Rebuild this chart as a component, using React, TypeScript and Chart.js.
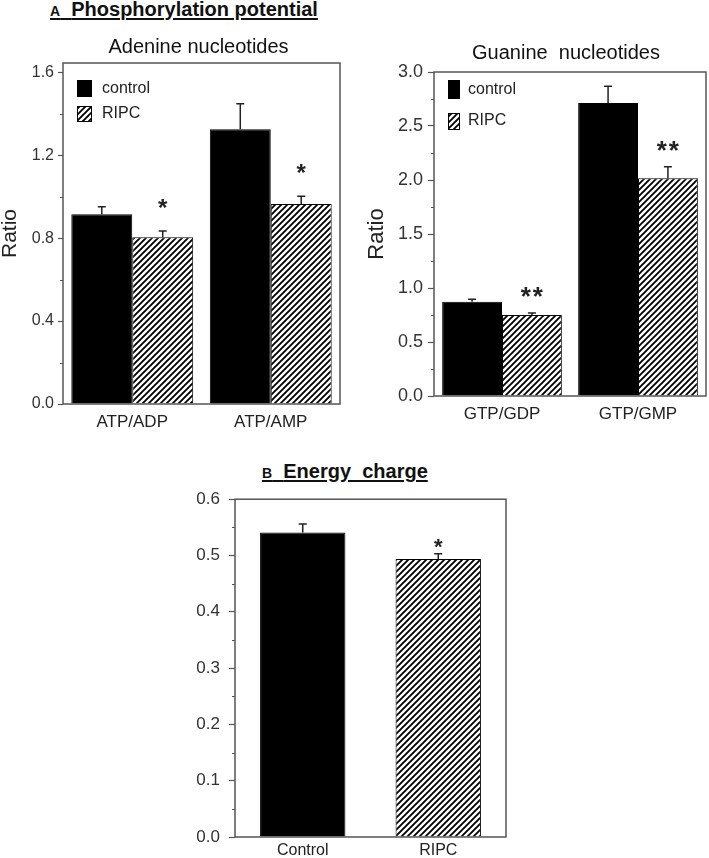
import React, { useEffect, useRef } from 'react';
import { Chart, registerables } from 'chart.js';
Chart.register(...registerables);

const FONT = "'Liberation Sans', Arial, Helvetica, sans-serif";

// ---- Panel A: Adenine nucleotides ----
const adenineCategories = ['ATP/ADP', 'ATP/AMP'];
const adenineControl = [0.915, 1.325];
const adenineControlErr = [0.036, 0.124];
const adenineRIPC = [0.805, 0.965];
const adenineRIPCErr = [0.029, 0.037];
const adenineRIPCStars = ['*', '*'];

// ---- Panel A: Guanine nucleotides ----
const guanineCategories = ['GTP/GDP', 'GTP/GMP'];
const guanineControl = [0.873, 2.713];
const guanineControlErr = [0.022, 0.154];
const guanineRIPC = [0.75, 2.016];
const guanineRIPCErr = [0.018, 0.107];
const guanineRIPCStars = ['**', '**'];

// ---- Panel B: Energy charge ----
const energyCategories = ['Control', 'RIPC'];
const energyValues = [0.541, 0.494];
const energyErr = [0.015, 0.009];
const energyStars = ['', '*'];

type Series = { label: string; data: number[]; errors: number[]; stars: string[]; hatch: boolean[] };
type LegendSpec = { boxes: { dx: number; dy: number; w: number; h: number }[]; textX: number; textY: number[]; font: number };
interface Spec {
  left: number; top: number; width: number; height: number;
  padTop: number; padRight: number; yWidth: number; xHeight: number;
  yMax: number; yStep: number;
  tickLen: number; tickPad: number; tickFont: number;
  xFont: number; xPad: number;
  yTitle?: string; yTitleFont?: number; yTitlePad?: number;
  subtitle?: string; subtitleFont?: number; subtitleDy?: number; subtitleDx?: number;
  categories: string[]; series: Series[];
  catPct: number; barPct: number;
  legend?: LegendSpec;
  starFont: number; starGap: number; starSep: number;
}

function makeHatch(): CanvasPattern | string {
  const c = document.createElement('canvas');
  c.width = 6; c.height = 6;
  const g = c.getContext('2d');
  if (!g) return '#888';
  g.fillStyle = '#fff';
  g.fillRect(0, 0, 6, 6);
  g.strokeStyle = '#000';
  g.lineWidth = 1.9;
  g.beginPath();
  g.moveTo(0, 6); g.lineTo(6, 0);
  g.moveTo(-1, 1); g.lineTo(1, -1);
  g.moveTo(5, 7); g.lineTo(7, 5);
  g.stroke();
  return g.createPattern(c, 'repeat') || '#888';
}

function Panel({ spec }: { spec: Spec }) {
  const ref = useRef<HTMLCanvasElement>(null);
  useEffect(() => {
    const canvas = ref.current;
    if (!canvas) return;
    const s = spec;
    const pattern = makeHatch();
    const overlay = {
      id: 'overlay',
      afterDatasetsDraw(chart: any) {
        const { ctx, chartArea: a } = chart;
        const y = chart.scales.y;
        ctx.save();
        // error bars + stars
        chart.data.datasets.forEach((ds: any, di: number) => {
          const meta = chart.getDatasetMeta(di);
          meta.data.forEach((bar: any, i: number) => {
            const v = ds.data[i];
            const e = ds.errors[i];
            const yb = y.getPixelForValue(v);
            const yt = y.getPixelForValue(v + e);
            ctx.strokeStyle = '#222';
            ctx.lineWidth = 1.5;
            ctx.beginPath();
            ctx.moveTo(bar.x, yb);
            ctx.lineTo(bar.x, yt);
            ctx.moveTo(bar.x - 4, yt);
            ctx.lineTo(bar.x + 4, yt);
            ctx.stroke();
            const st: string = ds.stars[i] || '';
            if (st) {
              ctx.fillStyle = '#222';
              ctx.font = `bold ${s.starFont}px ${FONT}`;
              ctx.textAlign = 'center';
              ctx.textBaseline = 'alphabetic';
              const n = st.length;
              const yc = yt - s.starGap;
              for (let k = 0; k < n; k++) {
                const xx = bar.x + (k - (n - 1) / 2) * s.starSep;
                ctx.fillText('*', xx, yc + 0.585 * s.starFont);
              }
            }
          });
        });
        // frame
        ctx.strokeStyle = '#555';
        ctx.lineWidth = 1.5;
        ctx.strokeRect(a.left, a.top, a.right - a.left, a.bottom - a.top);
        // minor ticks
        ctx.beginPath();
        for (let v = s.yStep / 2; v < s.yMax; v += s.yStep) {
          const py = Math.round(y.getPixelForValue(v)) + 0.5;
          ctx.moveTo(a.left - 3, py);
          ctx.lineTo(a.left, py);
        }
        ctx.lineWidth = 1;
        ctx.stroke();
        // legend
        if (s.legend) {
          const L = s.legend;
          L.boxes.forEach((b, i) => {
            const bx = a.left + b.dx, by = a.top + b.dy;
            ctx.fillStyle = s.series[i] && s.series[i].hatch[0] ? pattern : '#000';
            ctx.fillRect(bx, by, b.w, b.h);
            ctx.strokeStyle = '#000';
            ctx.lineWidth = 1;
            ctx.strokeRect(bx + 0.5, by + 0.5, b.w - 1, b.h - 1);
            ctx.fillStyle = '#222';
            ctx.font = `${L.font}px ${FONT}`;
            ctx.textAlign = 'left';
            ctx.textBaseline = 'middle';
            ctx.fillText(s.series[i].label, a.left + L.textX, a.top + L.textY[i]);
          });
        }
        // subtitle
        if (s.subtitle) {
          ctx.fillStyle = '#111';
          ctx.font = `${s.subtitleFont}px ${FONT}`;
          ctx.textAlign = 'center';
          ctx.textBaseline = 'middle';
          ctx.fillText(s.subtitle, (a.left + a.right) / 2 + (s.subtitleDx || 0), a.top + (s.subtitleDy || 0));
        }
        ctx.restore();
      },
    };
    const chart = new Chart(canvas, {
      type: 'bar',
      data: {
        labels: s.categories,
        datasets: s.series.map((sr) => ({
          label: sr.label,
          data: sr.data,
          errors: sr.errors,
          stars: sr.stars,
          backgroundColor: sr.hatch.map((h) => (h ? pattern : '#000')),
          borderColor: '#000',
          borderWidth: 1,
          categoryPercentage: s.catPct,
          barPercentage: s.barPct,
        })) as any,
      },
      options: {
        responsive: false,
        animation: false,
        devicePixelRatio: 1,
        layout: { padding: { top: s.padTop, right: s.padRight, left: 0, bottom: 0 } },
        plugins: { legend: { display: false }, tooltip: { enabled: false }, title: { display: false } },
        scales: {
          x: {
            grid: { display: false, drawTicks: false },
            border: { display: false },
            ticks: { color: '#222', font: { family: FONT, size: s.xFont }, padding: s.xPad, maxRotation: 0 },
            afterFit: (sc: any) => { sc.height = s.xHeight; },
          },
          y: {
            min: 0,
            max: s.yMax,
            grid: { display: true, drawOnChartArea: false, drawTicks: true, tickLength: s.tickLen, tickColor: '#555', tickWidth: 1.2 },
            border: { display: false },
            ticks: {
              stepSize: s.yStep,
              includeBounds: false,
              padding: s.tickPad,
              color: '#333',
              font: { family: FONT, size: s.tickFont },
              callback: (v: any) => Number(v).toFixed(1),
            },
            title: s.yTitle
              ? { display: true, text: s.yTitle, color: '#222', font: { family: FONT, size: s.yTitleFont, lineHeight: 1 }, padding: { top: s.yTitlePad || 0, bottom: 0 } }
              : { display: false },
            afterFit: (sc: any) => { sc.width = s.yWidth; },
          },
        },
      },
      plugins: [overlay],
    } as any);
    return () => chart.destroy();
  }, [spec]);
  return (
    <canvas
      ref={ref}
      width={spec.width}
      height={spec.height}
      style={{ position: 'absolute', left: spec.left, top: spec.top, width: spec.width, height: spec.height, display: 'block' }}
    />
  );
}

const adenineSpec: Spec = {
  left: 0, top: 30, width: 355, height: 410,
  padTop: 33, padRight: 15, yWidth: 63, xHeight: 36,
  yMax: 1.645, yStep: 0.4,
  tickLen: 5, tickPad: 4, tickFont: 16,
  xFont: 17, xPad: 8,
  yTitle: 'Ratio', yTitleFont: 21, yTitlePad: 0,
  subtitle: 'Adenine nucleotides', subtitleFont: 20, subtitleDy: -16, subtitleDx: -3,
  categories: adenineCategories,
  series: [
    { label: 'control', data: adenineControl, errors: adenineControlErr, stars: ['', ''], hatch: [false, false] },
    { label: 'RIPC', data: adenineRIPC, errors: adenineRIPCErr, stars: adenineRIPCStars, hatch: [true, true] },
  ],
  catPct: 0.88, barPct: 1,
  legend: { boxes: [{ dx: 14, dy: 17, w: 15, h: 17 }, { dx: 14, dy: 43, w: 15, h: 16 }], textX: 39, textY: [26, 51], font: 16 },
  starFont: 24, starGap: 29, starSep: 12,
};

const guanineSpec: Spec = {
  left: 355, top: 30, width: 354, height: 410,
  padTop: 42, padRight: 3, yWidth: 79, xHeight: 44,
  yMax: 3.0, yStep: 0.5,
  tickLen: 6, tickPad: 5, tickFont: 18,
  xFont: 17, xPad: 8,
  yTitle: 'Ratio', yTitleFont: 22, yTitlePad: 11,
  subtitle: 'Guanine  nucleotides', subtitleFont: 20, subtitleDy: -19, subtitleDx: -4,
  categories: guanineCategories,
  series: [
    { label: 'control', data: guanineControl, errors: guanineControlErr, stars: ['', ''], hatch: [false, false] },
    { label: 'RIPC', data: guanineRIPC, errors: guanineRIPCErr, stars: guanineRIPCStars, hatch: [true, true] },
  ],
  catPct: 0.88, barPct: 1,
  legend: { boxes: [{ dx: 14, dy: 8, w: 12, h: 19 }, { dx: 14, dy: 41, w: 12, h: 17 }], textX: 34, textY: [17.5, 48.5], font: 16 },
  starFont: 26, starGap: 23, starSep: 12,
};

const energySpec: Spec = {
  left: 170, top: 480, width: 350, height: 378,
  padTop: 17, padRight: 14, yWidth: 65, xHeight: 21,
  yMax: 0.6, yStep: 0.1,
  tickLen: 6, tickPad: 9, tickFont: 17,
  xFont: 16, xPad: 4,
  categories: energyCategories,
  series: [
    { label: 'Energy charge', data: energyValues, errors: energyErr, stars: energyStars, hatch: [false, true] },
  ],
  catPct: 1, barPct: 0.63,
  starFont: 22, starGap: 13, starSep: 12,
};

export default function App() {
  return (
    <div style={{ position: 'absolute', left: 0, top: 0, width: 709, height: 858, background: '#fff', fontFamily: FONT, overflow: 'hidden' }}>
      <div
        style={{
          position: 'absolute', left: 50, top: -2, fontWeight: 'bold', fontSize: 20, lineHeight: '22px',
          textDecoration: 'underline', textDecorationThickness: '2px', textUnderlineOffset: '2px', whiteSpace: 'pre', color: '#111',
        }}
      >
        <span style={{ fontSize: 14 }}>A</span>{'  '}Phosphorylation potential
      </div>
      <Panel spec={adenineSpec} />
      <Panel spec={guanineSpec} />
      <div
        style={{
          position: 'absolute', left: 262, top: 460, fontWeight: 'bold', fontSize: 20, lineHeight: '22px',
          textDecoration: 'underline', textDecorationThickness: '2px', textUnderlineOffset: '2px', whiteSpace: 'pre', color: '#111',
        }}
      >
        <span style={{ fontSize: 14 }}>B</span>{'  '}Energy  charge
      </div>
      <Panel spec={energySpec} />
    </div>
  );
}
